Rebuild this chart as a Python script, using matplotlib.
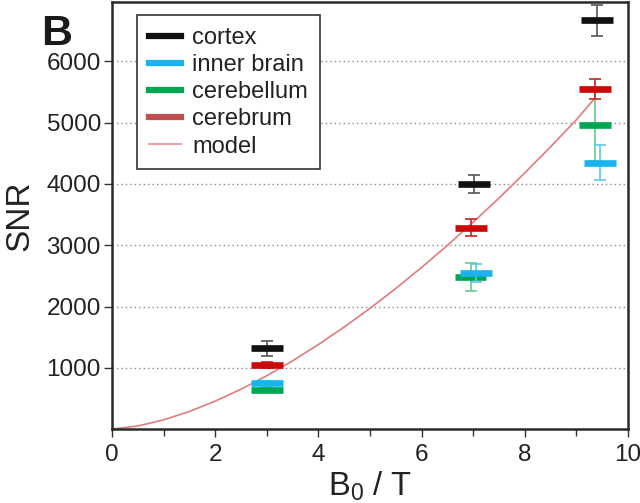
import matplotlib
matplotlib.use("Agg")
import matplotlib.pyplot as plt
from matplotlib.lines import Line2D
from matplotlib.ticker import MultipleLocator, FixedLocator

plt.rcParams['font.family'] = ['Liberation Sans', 'DejaVu Sans']
plt.rcParams['mathtext.default'] = 'regular'

# ---- data ----
regions = ['cortex', 'inner brain', 'cerebellum', 'cerebrum']
field_strengths = [3.0, 7.0, 9.4]

cortex_x = [3.0, 7.02, 9.41]
cortex_snr = [1320, 4000, 6670]
cortex_err = [120, 140, 250]

inner_x = [3.0, 7.05, 9.46]
inner_snr = [745, 2550, 4345]
inner_err = [40, 150, 285]

cerebellum_x = [3.0, 6.95, 9.36]
cerebellum_snr = [640, 2485, 4967]
cerebellum_err = [30, 230, 600]

cerebrum_x = [3.0, 6.96, 9.36]
cerebrum_snr = [1045, 3285, 5556]
cerebrum_err = [45, 140, 165]

model_b0 = [0.0, 0.5, 1.0, 1.5, 2.0, 2.5, 3.0, 3.5, 4.0, 4.5, 5.0, 5.5, 6.0,
            6.5, 7.0, 7.5, 8.0, 8.5, 9.0, 9.36]
model_snr = [0, 50, 150, 287, 455, 650, 870, 1113, 1379, 1665, 1970, 2294,
             2637, 2997, 3375, 3768, 4179, 4605, 5046, 5400]

y_ticks = [1000, 2000, 3000, 4000, 5000, 6000]
x_ticks = [0, 2, 4, 6, 8, 10]

# ---- style ----
bar_colors = {'cortex': '#111111', 'inner brain': '#19b4ee',
              'cerebellum': '#00a651', 'cerebrum': '#cc0a0a'}
err_colors = {'cortex': '#555555', 'inner brain': '#5cc8f0',
              'cerebellum': '#5ccf86', 'cerebrum': '#cc2222'}
legend_colors = {'cortex': '#111111', 'inner brain': '#19b4ee',
                 'cerebellum': '#00a651', 'cerebrum': '#c0504d'}
half_w = 0.31

fig = plt.figure(figsize=(6.4, 5.03), dpi=100)
ax = fig.add_axes([0.175, 0.147, 0.806, 0.849])

ax.set_xlim(0, 10)
ax.set_ylim(0, 6970)

for yv in y_ticks:
    ax.axhline(yv, color='#8a8a8a', lw=1.0, ls=(0, (1, 2.2)), zorder=0)

ax.plot(model_b0, model_snr, color='#e07c7c', lw=1.2, zorder=2)

series = [
    ('cerebellum', cerebellum_x, cerebellum_snr, cerebellum_err),
    ('inner brain', inner_x, inner_snr, inner_err),
    ('cerebrum', cerebrum_x, cerebrum_snr, cerebrum_err),
    ('cortex', cortex_x, cortex_snr, cortex_err),
]
z = 3
for name, xs, ys, es in series:
    ax.errorbar(xs, ys, yerr=es, fmt='none', ecolor=err_colors[name],
                elinewidth=1.2, capsize=4, capthick=1.2, zorder=z)
    ax.hlines(ys, [x - half_w for x in xs], [x + half_w for x in xs],
              colors=bar_colors[name], lw=4.8, zorder=z + 0.5)
    z += 1

for s in ax.spines.values():
    s.set_linewidth(1.8)
    s.set_color('#2a2a2a')

ax.yaxis.set_major_locator(FixedLocator(y_ticks))
ax.xaxis.set_major_locator(FixedLocator(x_ticks))
ax.xaxis.set_minor_locator(MultipleLocator(1))
ax.tick_params(axis='both', which='major', direction='out', length=6,
               width=1.0, color='#333333', labelsize=17.5, labelcolor='#222222')
ax.tick_params(axis='x', which='minor', direction='out', length=5,
               width=1.0, color='#333333')
ax.tick_params(axis='y', pad=2)
ax.tick_params(axis='x', pad=5)

ax.set_ylabel('SNR', fontsize=24, color='#222222', labelpad=8)
ax.set_xlabel('B$_0$ / T', fontsize=23.5, color='#222222', labelpad=2)

fig.text(0.065, 0.9105, 'B', fontsize=31, fontweight='bold', color='#1a1a1a',
         va='baseline', ha='left')

handles = [Line2D([], [], color=legend_colors[r], lw=4.5) for r in regions]
handles.append(Line2D([], [], color='#f4a0a0', lw=1.5))
labels = regions + ['model']
leg = ax.legend(handles, labels, loc='upper left',
                fontsize=17,
                frameon=True, fancybox=False, edgecolor='#333333',
                framealpha=1, handlelength=1.35, handletextpad=0.5,
                labelspacing=0.22, borderpad=0.5, borderaxespad=0)
leg.get_frame().set_linewidth(1.2)
leg.set_bbox_to_anchor((137 / 640, 1 - 15 / 503), transform=fig.transFigure)
for t in leg.get_texts():
    t.set_color('#222222')

fig.savefig('out.png', dpi=100)
